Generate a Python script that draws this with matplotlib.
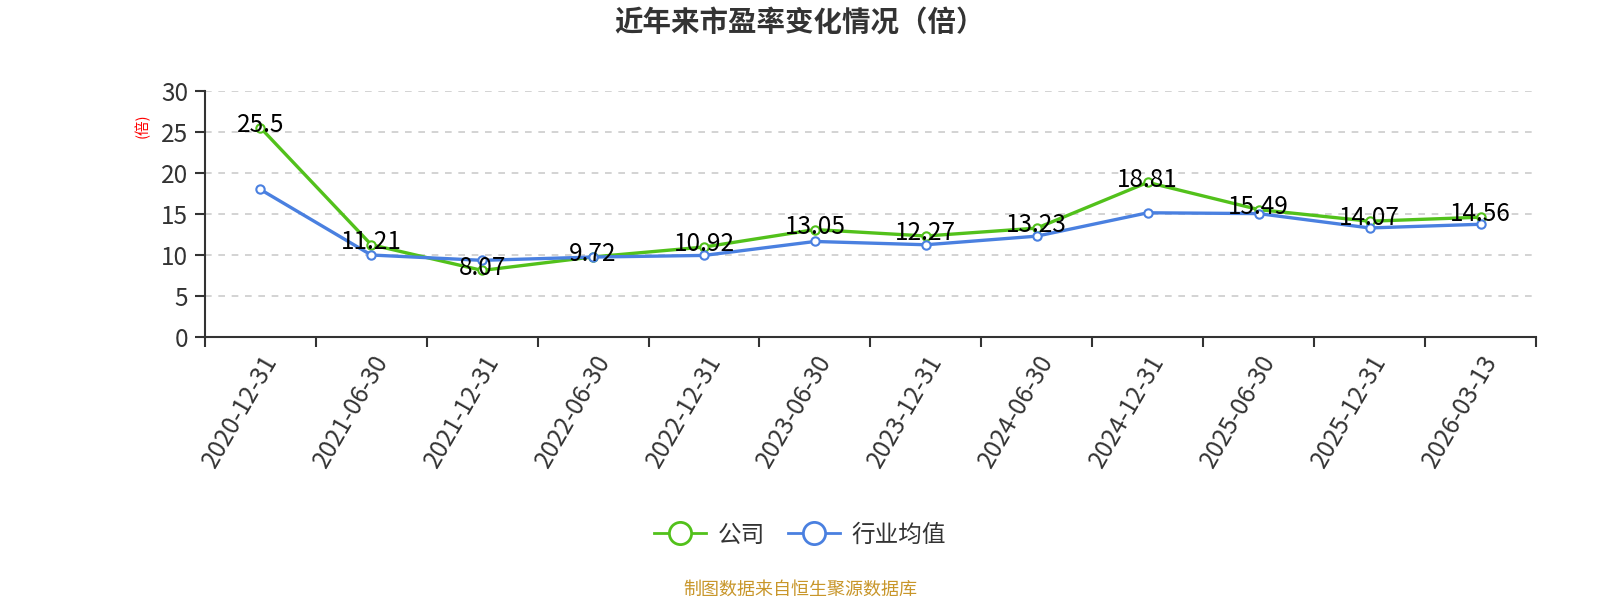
import matplotlib
matplotlib.use("Agg")
import matplotlib.pyplot as plt
from matplotlib.lines import Line2D

plt.rcParams['font.family'] = ['Noto Sans CJK SC', 'DejaVu Sans']

dates = ["2020-12-31", "2021-06-30", "2021-12-31", "2022-06-30", "2022-12-31", "2023-06-30",
         "2023-12-31", "2024-06-30", "2024-12-31", "2025-06-30", "2025-12-31", "2026-03-13"]
company = [25.5, 11.21, 8.07, 9.72, 10.92, 13.05, 12.27, 13.23, 18.81, 15.49, 14.07, 14.56]
industry = [17.95, 9.95, 9.3, 9.7, 9.9, 11.6, 11.2, 12.25, 15.1, 15.0, 13.25, 13.7]

green = "#52c11b"
blue = "#4a80e0"

fig = plt.figure(figsize=(16, 6), dpi=100)
ax = fig.add_axes([0.128, 0.439, 0.832, 0.41])

x = list(range(len(dates)))
ax.plot(x, company, color=green, lw=2.4, marker='o', ms=6, mfc='white', mec=green, mew=1.5, zorder=3)
ax.plot(x, industry, color=blue, lw=2.4, marker='o', ms=6, mfc='white', mec=blue, mew=1.5, zorder=3)

for xi, v in zip(x, company):
    ax.annotate(f"{v:g}", (xi, v), xytext=(0, 2), textcoords='offset points',
                ha='center', va='center', fontsize=17.5, color='black', zorder=4)

ax.set_xlim(-0.5, len(dates) - 0.5)
ax.set_ylim(0, 30)
ax.set_yticks([0, 5, 10, 15, 20, 25, 30])
ax.grid(axis='y', color='#cccccc', ls=(0, (4, 4)), lw=1.2)
ax.set_axisbelow(True)

ax.set_xticks(x)
ax.set_xticklabels(dates, rotation=60, ha='right', rotation_mode='anchor', fontsize=17.5, color='#333333')
ax.tick_params(axis='x', which='major', length=0, pad=10)
ax.set_xticks([i - 0.5 for i in range(len(dates) + 1)], minor=True)
ax.tick_params(axis='x', which='minor', length=7, width=1.5, color='#333333')
ax.tick_params(axis='y', length=7, width=1.5, color='#333333', labelsize=17.5, labelcolor='#333333', pad=5)

for s in ['top', 'right']:
    ax.spines[s].set_visible(False)
for s in ['left', 'bottom']:
    ax.spines[s].set_color('#333333')
    ax.spines[s].set_linewidth(1.5)

fig.text(0.089, 0.79, "(倍)", color='red', fontsize=10.5, rotation=90, ha='center', va='center')
fig.text(0.5, 0.963, "近年来市盈率变化情况（倍）", ha='center', va='center', fontsize=20.5,
         fontweight='bold', color='#333333')

handles = [Line2D([], [], color=green, lw=2, marker='o', ms=16, mfc='white', mec=green, mew=2),
           Line2D([], [], color=blue, lw=2, marker='o', ms=16, mfc='white', mec=blue, mew=2)]
fig.legend(handles, ["公司", "行业均值"], loc='center', bbox_to_anchor=(0.5, 0.108), ncol=2,
           frameon=False, fontsize=17, handlelength=2.2, columnspacing=1.0, handletextpad=0.5,
           labelcolor='#333333')

fig.text(0.5, 0.018, "制图数据来自恒生聚源数据库", ha='center', va='center', fontsize=13, color='#c8962a')

fig.savefig("out.png", dpi=100)
